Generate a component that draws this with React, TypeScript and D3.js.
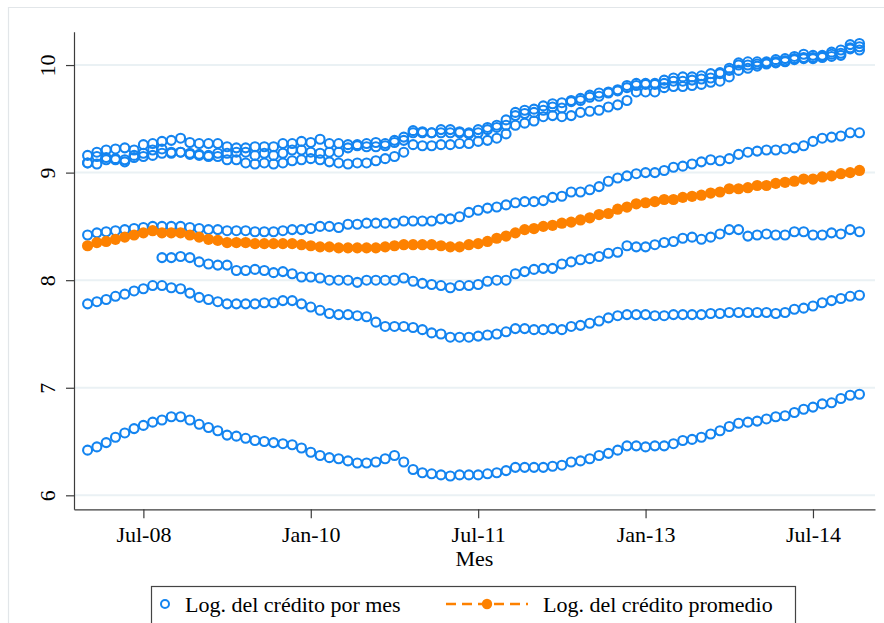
import React, { useEffect, useRef } from "react";
import * as d3 from "d3";

// months since Jan-2008 (Stata %tm style), Jan-08 .. Dec-14
const months = d3.range(0, 84);
const xTickMonths = [6, 24, 42, 60, 78];
const xTickLabels = ["Jul-08", "Jan-10", "Jul-11", "Jan-13", "Jul-14"];
const yTicks = [6, 7, 8, 9, 10];

// log of credit per month, one array per unit
const creditTop = [
  9.16, 9.19, 9.21, 9.22, 9.23, 9.21, 9.26, 9.27, 9.29, 9.3, 9.32, 9.28, 9.27, 9.27, 9.27, 9.24,
  9.23, 9.23, 9.24, 9.24, 9.24, 9.27, 9.27, 9.29, 9.28, 9.31, 9.27, 9.27, 9.26, 9.26, 9.27, 9.28,
  9.27, 9.3, 9.33, 9.39, 9.38, 9.37, 9.4, 9.4, 9.38, 9.37, 9.4, 9.42, 9.44, 9.49, 9.56, 9.58,
  9.59, 9.62, 9.64, 9.65, 9.67, 9.69, 9.72, 9.74, 9.75, 9.77, 9.81, 9.83, 9.83, 9.83, 9.86, 9.88,
  9.89, 9.89, 9.9, 9.92, 9.93, 9.97, 10.02, 10.03, 10.03, 10.03, 10.05, 10.06, 10.08, 10.1, 10.09,
  10.09, 10.12, 10.14, 10.19, 10.2,
];
const creditMid = [
  9.09, 9.15, 9.14, 9.13, 9.12, 9.16, 9.18, 9.21, 9.22, 9.19, 9.19, 9.18, 9.17, 9.16, 9.18, 9.18,
  9.19, 9.19, 9.16, 9.18, 9.16, 9.18, 9.21, 9.21, 9.19, 9.18, 9.19, 9.19, 9.23, 9.25, 9.24, 9.24,
  9.25, 9.28, 9.3, 9.37, 9.37, 9.37, 9.37, 9.37, 9.37, 9.36, 9.37, 9.4, 9.42, 9.44, 9.53, 9.55,
  9.56, 9.58, 9.61, 9.6, 9.66, 9.67, 9.7, 9.71, 9.74, 9.76, 9.79, 9.81, 9.82, 9.82, 9.83, 9.85,
  9.85, 9.86, 9.87, 9.88, 9.92, 9.95, 10.0, 10.0, 10.01, 10.02, 10.03, 10.04, 10.06, 10.07, 10.07,
  10.08, 10.1, 10.11, 10.16, 10.17,
];
const creditLow = [
  9.09, 9.08, 9.12, 9.12, 9.1, 9.14, 9.15, 9.16, 9.18, 9.18, 9.19, 9.17, 9.16, 9.15, 9.15, 9.12,
  9.12, 9.09, 9.08, 9.09, 9.08, 9.09, 9.11, 9.12, 9.13, 9.12, 9.1, 9.09, 9.08, 9.09, 9.09, 9.11,
  9.13, 9.15, 9.19, 9.26, 9.25, 9.25, 9.26, 9.26, 9.27, 9.27, 9.29, 9.3, 9.32, 9.36, 9.44, 9.46,
  9.48, 9.52, 9.53, 9.52, 9.53, 9.56, 9.57, 9.58, 9.61, 9.63, 9.67, 9.75, 9.75, 9.75, 9.79, 9.8,
  9.8, 9.81, 9.82, 9.84, 9.85, 9.89, 9.95, 9.97, 9.99, 10.01, 10.02, 10.03, 10.05, 10.06, 10.06,
  10.07, 10.08, 10.09, 10.15, 10.14,
];
const creditD = [
  8.42, 8.44, 8.45, 8.46, 8.47, 8.48, 8.49, 8.5, 8.5, 8.5, 8.5, 8.49, 8.48, 8.47, 8.47, 8.46,
  8.46, 8.46, 8.45, 8.45, 8.45, 8.46, 8.47, 8.47, 8.48, 8.5, 8.5, 8.49, 8.52, 8.52, 8.53, 8.53,
  8.53, 8.53, 8.55, 8.55, 8.55, 8.55, 8.57, 8.57, 8.59, 8.63, 8.65, 8.67, 8.68, 8.7, 8.72, 8.73,
  8.73, 8.74, 8.77, 8.78, 8.82, 8.82, 8.84, 8.87, 8.92, 8.95, 8.97, 8.99, 9.0, 9.0, 9.02, 9.05,
  9.06, 9.08, 9.1, 9.12, 9.11, 9.13, 9.17, 9.19, 9.2, 9.21, 9.21, 9.22, 9.23, 9.25, 9.29, 9.32,
  9.33, 9.34, 9.37, 9.37,
];
// this unit starts in Sep-08
const creditCStart = 8;
const creditC = [
  8.21, 8.21, 8.22, 8.21, 8.17, 8.15, 8.14, 8.14, 8.09, 8.09, 8.1, 8.09, 8.07, 8.08, 8.06, 8.03,
  8.03, 8.02, 8.0, 8.0, 8.0, 7.98, 8.0, 8.0, 8.0, 8.0, 8.02, 7.99, 7.97, 7.96, 7.95, 7.93,
  7.95, 7.95, 7.96, 7.99, 8.0, 8.0, 8.06, 8.08, 8.1, 8.11, 8.11, 8.15, 8.17, 8.19, 8.2, 8.22,
  8.25, 8.26, 8.32, 8.31, 8.31, 8.33, 8.35, 8.36, 8.39, 8.4, 8.38, 8.4, 8.43, 8.47, 8.47, 8.41,
  8.42, 8.43, 8.42, 8.42, 8.45, 8.45, 8.42, 8.42, 8.44, 8.43, 8.47, 8.45,
];
const creditB = [
  7.78, 7.8, 7.82, 7.85, 7.87, 7.9, 7.92, 7.95, 7.95, 7.93, 7.92, 7.88, 7.84, 7.82, 7.8, 7.78,
  7.78, 7.78, 7.78, 7.79, 7.79, 7.81, 7.81, 7.78, 7.75, 7.72, 7.69, 7.68, 7.68, 7.67, 7.66, 7.61,
  7.57, 7.57, 7.57, 7.56, 7.54, 7.51, 7.5, 7.47, 7.47, 7.47, 7.48, 7.49, 7.5, 7.52, 7.55, 7.55,
  7.54, 7.54, 7.55, 7.54, 7.57, 7.58, 7.6, 7.62, 7.65, 7.67, 7.68, 7.68, 7.68, 7.67, 7.67, 7.68,
  7.68, 7.68, 7.68, 7.69, 7.69, 7.7, 7.7, 7.7, 7.7, 7.7, 7.69, 7.7, 7.73, 7.74, 7.76, 7.79,
  7.81, 7.83, 7.85, 7.86,
];
const creditA = [
  6.42, 6.45, 6.49, 6.54, 6.58, 6.62, 6.65, 6.68, 6.7, 6.73, 6.73, 6.7, 6.66, 6.63, 6.6, 6.56,
  6.55, 6.53, 6.51, 6.5, 6.49, 6.48, 6.47, 6.44, 6.4, 6.37, 6.35, 6.34, 6.32, 6.3, 6.3, 6.31,
  6.34, 6.37, 6.31, 6.24, 6.21, 6.2, 6.19, 6.18, 6.19, 6.19, 6.19, 6.2, 6.21, 6.23, 6.26, 6.26,
  6.26, 6.26, 6.27, 6.28, 6.31, 6.32, 6.34, 6.37, 6.39, 6.42, 6.46, 6.46, 6.45, 6.46, 6.46, 6.48,
  6.51, 6.52, 6.54, 6.57, 6.6, 6.64, 6.67, 6.68, 6.69, 6.71, 6.73, 6.74, 6.77, 6.8, 6.82, 6.85,
  6.86, 6.9, 6.93, 6.94,
];
// average log credit
const creditMean = [
  8.32, 8.35, 8.36, 8.38, 8.4, 8.42, 8.44, 8.46, 8.44, 8.44, 8.44, 8.42, 8.4, 8.38, 8.37, 8.35,
  8.35, 8.35, 8.34, 8.34, 8.34, 8.34, 8.34, 8.33, 8.32, 8.31, 8.31, 8.3, 8.3, 8.3, 8.3, 8.3,
  8.31, 8.32, 8.33, 8.33, 8.33, 8.33, 8.32, 8.31, 8.31, 8.33, 8.34, 8.36, 8.39, 8.41, 8.44, 8.47,
  8.48, 8.5, 8.51, 8.53, 8.54, 8.56, 8.58, 8.61, 8.62, 8.66, 8.68, 8.71, 8.72, 8.73, 8.75, 8.75,
  8.77, 8.78, 8.79, 8.81, 8.82, 8.85, 8.85, 8.86, 8.88, 8.88, 8.9, 8.91, 8.92, 8.94, 8.94, 8.96,
  8.97, 8.99, 9.0, 9.02,
];

const legendLabels = ["Log. del crédito por mes", "Log. del crédito promedio"];
const xTitle = "Mes";

const blueSeries = [
  { start: 0, values: creditA },
  { start: 0, values: creditB },
  { start: creditCStart, values: creditC },
  { start: 0, values: creditD },
  { start: 0, values: creditLow },
  { start: 0, values: creditMid },
  { start: 0, values: creditTop },
];

const width = 884;
const height = 623;
const plotLeft = 74;
const plotRight = 875;
const plotTop = 31.7;
const plotBottom = 509.3;
const fontFamily = '"Liberation Serif", "Times New Roman", Times, serif';
const blue = "#1384f0";
const orange = "#fd8100";
const axisColor = "#3c3c3c";

export default function App() {
  const svgRef = useRef<SVGSVGElement>(null);

  useEffect(() => {
    const svg = d3.select(svgRef.current);
    svg.selectAll("*").remove();

    const x = d3.scaleLinear().domain([-1.46, 84.67]).range([plotLeft, plotRight]);
    const y = d3.scaleLinear().domain([5.87, 10.31]).range([plotBottom, plotTop]);

    svg.append("rect").attr("width", width).attr("height", height).attr("fill", "#fff");
    // faint outer frame of the graph region
    svg
      .append("path")
      .attr("d", `M8.5,${height} V7.5 H${width}`)
      .attr("fill", "none")
      .attr("stroke", "#e2e6e9")
      .attr("stroke-width", 1.2);

    // horizontal grid
    svg
      .append("g")
      .selectAll("line")
      .data(yTicks)
      .join("line")
      .attr("x1", plotLeft)
      .attr("x2", plotRight)
      .attr("y1", (d) => y(d))
      .attr("y2", (d) => y(d))
      .attr("stroke", "#eaf1f4")
      .attr("stroke-width", 2);

    // y axis, labels rotated like Stata
    const yAxis = svg
      .append("g")
      .attr("transform", `translate(${plotLeft},0)`)
      .call(d3.axisLeft(y).tickValues(yTicks).tickSize(8).tickSizeOuter(0).tickFormat(d3.format("d")));
    yAxis.select(".domain").attr("stroke", axisColor).attr("stroke-width", 1.2);
    yAxis.selectAll(".tick line").attr("stroke", axisColor).attr("stroke-width", 1.2);
    yAxis
      .selectAll(".tick text")
      .attr("x", 0)
      .attr("dy", 0)
      .attr("text-anchor", "middle")
      .attr("fill", "#000")
      .style("font-family", fontFamily)
      .style("font-size", "22px")
      .attr("transform", "translate(-19,0) rotate(-90)");

    // x axis
    const xAxis = svg
      .append("g")
      .attr("transform", `translate(0,${plotBottom})`)
      .call(
        d3
          .axisBottom(x)
          .tickValues(xTickMonths)
          .tickSize(9)
          .tickPadding(8)
          .tickSizeOuter(0)
          .tickFormat((d, i) => xTickLabels[i]),
      );
    xAxis.select(".domain").attr("stroke", axisColor).attr("stroke-width", 1.2);
    xAxis.selectAll(".tick line").attr("stroke", axisColor).attr("stroke-width", 1.2);
    xAxis
      .selectAll(".tick text")
      .attr("fill", "#000")
      .style("font-family", fontFamily)
      .style("font-size", "22px");

    svg
      .append("text")
      .attr("x", (plotLeft + plotRight) / 2)
      .attr("y", 566)
      .attr("text-anchor", "middle")
      .style("font-family", fontFamily)
      .style("font-size", "22px")
      .text(xTitle);

    // blue hollow markers, one scatter per unit
    const bluePoints = blueSeries.flatMap((s) =>
      s.values.map((v, k) => ({ m: months[s.start + k], v })),
    );
    svg
      .append("g")
      .selectAll("circle")
      .data(bluePoints)
      .join("circle")
      .attr("cx", (d) => x(d.m))
      .attr("cy", (d) => y(d.v))
      .attr("r", 4.5)
      .attr("fill", "none")
      .attr("stroke", blue)
      .attr("stroke-width", 2.1);

    // orange mean: dashed connected line with filled markers
    const meanPoints = creditMean.map((v, k) => ({ m: months[k], v }));
    const line = d3
      .line<{ m: number; v: number }>()
      .x((d) => x(d.m))
      .y((d) => y(d.v));
    svg
      .append("path")
      .attr("d", line(meanPoints))
      .attr("fill", "none")
      .attr("stroke", orange)
      .attr("stroke-width", 2.4)
      .attr("stroke-dasharray", "9,5");
    svg
      .append("g")
      .selectAll("circle")
      .data(meanPoints)
      .join("circle")
      .attr("cx", (d) => x(d.m))
      .attr("cy", (d) => y(d.v))
      .attr("r", 5.6)
      .attr("fill", orange);

    // legend
    const legend = svg.append("g").style("font-family", fontFamily).style("font-size", "22px");
    legend
      .append("rect")
      .attr("x", 151.5)
      .attr("y", 586.5)
      .attr("width", 644)
      .attr("height", 60)
      .attr("fill", "#fff")
      .attr("stroke", "#444")
      .attr("stroke-width", 1.2);
    legend
      .append("circle")
      .attr("cx", 165)
      .attr("cy", 604)
      .attr("r", 4)
      .attr("fill", "none")
      .attr("stroke", blue)
      .attr("stroke-width", 2);
    legend.append("text").attr("x", 185).attr("y", 611.5).text(legendLabels[0]);
    legend
      .append("line")
      .attr("x1", 446)
      .attr("x2", 528)
      .attr("y1", 604)
      .attr("y2", 604)
      .attr("stroke", orange)
      .attr("stroke-width", 2.4)
      .attr("stroke-dasharray", "10,6");
    legend.append("circle").attr("cx", 487).attr("cy", 604).attr("r", 5.2).attr("fill", orange);
    legend.append("text").attr("x", 543).attr("y", 611.5).text(legendLabels[1]);
  }, []);

  return (
    <svg
      ref={svgRef}
      width={width}
      height={height}
      style={{ position: "absolute", left: 0, top: 0, display: "block" }}
    />
  );
}
